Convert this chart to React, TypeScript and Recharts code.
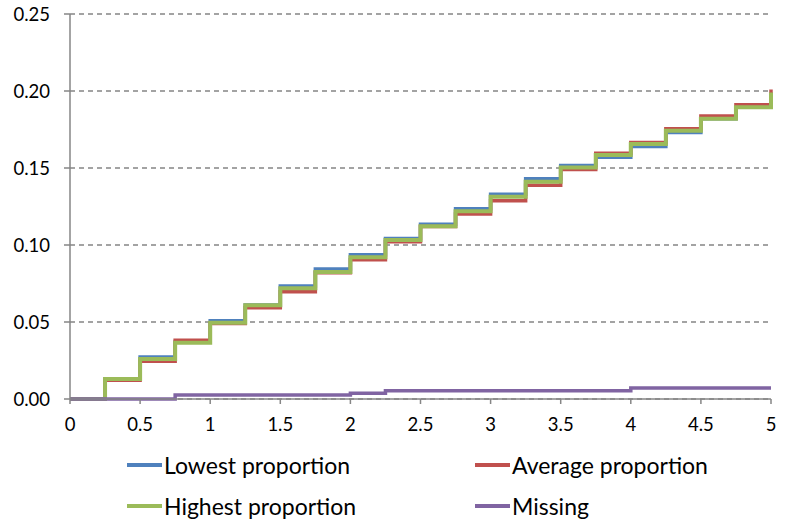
import React from 'react';
import {
  LineChart,
  Line,
  XAxis,
  YAxis,
  CartesianGrid,
} from 'recharts';

// x positions (step starts)
const xs = [0, 0.25, 0.5, 0.75, 1, 1.25, 1.5, 1.75, 2, 2.25, 2.5, 2.75, 3, 3.25, 3.5, 3.75, 4, 4.25, 4.5, 4.75, 5];

const lowest = [0, 0.013, 0.0273, 0.037, 0.0508, 0.061, 0.0734, 0.0844, 0.0937, 0.1043, 0.1134, 0.1236, 0.133, 0.143, 0.1517, 0.157, 0.164, 0.173, 0.182, 0.1894, 0.199];
const average = [0, 0.0121, 0.0245, 0.0381, 0.049, 0.0593, 0.0697, 0.082, 0.0905, 0.1021, 0.112, 0.1201, 0.1288, 0.1388, 0.149, 0.1595, 0.1665, 0.1755, 0.1838, 0.191, 0.201];
const highest = [0, 0.013, 0.026, 0.0366, 0.0495, 0.0608, 0.0719, 0.0825, 0.092, 0.1032, 0.1121, 0.1219, 0.1314, 0.1411, 0.1504, 0.1584, 0.1656, 0.1742, 0.182, 0.1894, 0.199];
const missing = [0, 0, 0, 0.0026, 0.0026, 0.0026, 0.0026, 0.0026, 0.0037, 0.0054, 0.0054, 0.0054, 0.0054, 0.0054, 0.0054, 0.0054, 0.0072, 0.0072, 0.0072, 0.0072, 0.0072];

const xTicks = [0, 0.5, 1, 1.5, 2, 2.5, 3, 3.5, 4, 4.5, 5];
const yTicks = [0, 0.05, 0.1, 0.15, 0.2, 0.25];

const series = [
  { key: 'lowest', name: 'Lowest proportion', color: '#4F81BD', width: 3.5 },
  { key: 'average', name: 'Average proportion', color: '#C0504D', width: 3.5 },
  { key: 'highest', name: 'Highest proportion', color: '#9BBB59', width: 4 },
  { key: 'missing', name: 'Missing', color: '#8064A2', width: 3.5 },
];

const data = xs.map((x, i) => ({
  x,
  lowest: lowest[i],
  average: average[i],
  highest: highest[i],
  missing: missing[i],
}));

const FONT = 'Lato, "Liberation Sans", sans-serif';

// legend laid out like the excel one: 2 columns, 2 rows
function ChartLegend() {
  const spots = [
    { left: 127, top: 465 },
    { left: 475, top: 465 },
    { left: 127, top: 506 },
    { left: 475, top: 506 },
  ];
  return (
    <>
      {series.map((s, i) => {
        const p = spots[i];
        return (
          <div
            key={s.key}
            style={{
              position: 'absolute',
              left: p.left,
              top: p.top - 16,
              height: 32,
              display: 'flex',
              alignItems: 'center',
              fontFamily: FONT,
              fontSize: 23,
              color: '#000',
              whiteSpace: 'nowrap',
            }}
          >
            <span style={{ display: 'inline-block', width: 35, height: 4, background: s.color, marginRight: 2 }} />
            <span>{s.name}</span>
          </div>
        );
      })}
    </>
  );
}

export default function App() {
  return (
    <div style={{ position: 'absolute', left: 0, top: 0, width: 786, height: 521, background: '#fff' }}>
      <LineChart
        width={786}
        height={521}
        data={data}
        margin={{ top: 14, right: 15, left: 10, bottom: 92 }}
      >
        <CartesianGrid vertical={false} stroke="#858585" strokeDasharray="5 4" strokeWidth={1.3} />
        <XAxis
          dataKey="x"
          type="number"
          domain={[0, 5]}
          ticks={xTicks}
          interval={0}
          height={30}
          tickSize={5}
          tickMargin={14}
          stroke="#868686"
          strokeWidth={1.5}
          tick={{ fill: '#000', fontFamily: FONT, fontSize: 18.5 }}
        />
        <YAxis
          type="number"
          domain={[0, 0.25]}
          ticks={yTicks}
          interval={0}
          width={60}
          tickSize={6}
          tickMargin={14}
          stroke="#868686"
          strokeWidth={1.5}
          tickFormatter={(v: number) => v.toFixed(2)}
          tick={{ fill: '#000', fontFamily: FONT, fontSize: 18.5 }}
        />
        {series.map((s) => (
          <Line
            key={s.key}
            type="stepAfter"
            dataKey={s.key}
            name={s.name}
            stroke={s.color}
            strokeWidth={s.width}
            dot={false}
            activeDot={false}
            isAnimationActive={false}
          />
        ))}
      </LineChart>
      <ChartLegend />
    </div>
  );
}
